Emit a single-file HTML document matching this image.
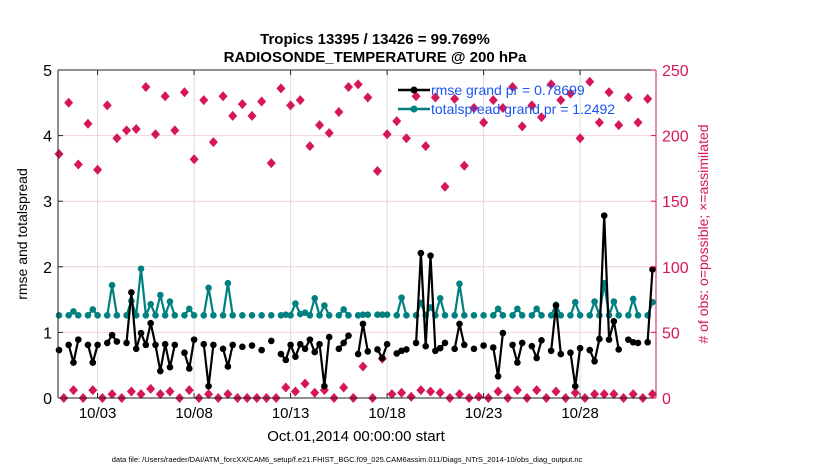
<!DOCTYPE html>
<html><head><meta charset="utf-8">
<style>
html,body{margin:0;padding:0;background:#fff;}
svg{display:block;font-family:"Liberation Sans",sans-serif;}
</style></head>
<body>
<svg id="chart" width="830" height="470" viewBox="0 0 830 470">
<rect x="0" y="0" width="830" height="470" fill="#fff"/>
<text x="375" y="44" text-anchor="middle" font-size="15" font-weight="bold">Tropics 13395 / 13426 = 99.769%</text>
<text x="375" y="62" text-anchor="middle" font-size="15" font-weight="bold">RADIOSONDE_TEMPERATURE @ 200 hPa</text>
<g id="grid"></g>
<g id="marks"></g>
<g id="axes"></g>
<text x="27" y="234" text-anchor="middle" font-size="14" transform="rotate(-90 27 234)">rmse and totalspread</text>
<text x="708" y="234" text-anchor="middle" font-size="14" fill="#d6165a" transform="rotate(-90 708 234)"># of obs: o=possible; ×=assimilated</text>
<text x="356" y="441" text-anchor="middle" font-size="15">Oct.01,2014 00:00:00 start</text>
<text x="347" y="462" text-anchor="middle" font-size="7.5">data file: /Users/raeder/DAI/ATM_forcXX/CAM6_setup/f.e21.FHIST_BGC.f09_025.CAM6assim.011/Diags_NTrS_2014-10/obs_diag_output.nc</text>
<g>
<line x1="398" y1="90" x2="430" y2="90" stroke="#000" stroke-width="2.5"/>
<circle cx="414" cy="90" r="3.5" fill="#000"/>
<text x="431" y="95" font-size="14" fill="#1a56f0">rmse grand pr = 0.78699</text>
<line x1="398" y1="109" x2="430" y2="109" stroke="#008080" stroke-width="2.5"/>
<circle cx="414" cy="109" r="3.5" fill="#008080"/>
<text x="431" y="114" font-size="14" fill="#1a56f0">totalspread grand pr = 1.2492</text>
</g>
</svg>
<script>
const rmse=[.73,null,.81,.54,.89,null,.81,.54,.81,null,.84,.96,.86,null,.84,1.61,.75,.99,.81,1.14,.81,.41,.82,.47,.81,null,.69,.45,.89,null,.82,.18,.81,null,.75,.48,.81,null,.78,null,.80,null,.73,null,.87,null,.67,.58,.81,.63,.82,.75,.89,.70,.82,.18,.93,null,.75,.84,.95,null,.67,1.13,.71,null,.74,.61,.82,null,.68,.72,.74,null,.84,2.21,.79,2.17,.72,.76,.84,null,.75,1.13,.81,null,.75,null,.80,null,.77,.33,.99,null,.81,.54,.84,null,.79,.61,.88,null,.72,1.41,.67,null,.69,.18,.76,null,.73,.56,.90,2.78,.89,1.17,.74,null,.89,.85,.84,null,.85,1.96];
const spread=[1.26,null,1.26,1.32,1.26,null,1.26,1.35,1.26,null,1.26,1.72,1.26,null,1.26,1.48,1.26,1.97,1.26,1.43,1.26,1.57,1.26,1.47,1.26,null,1.26,1.36,1.26,null,1.26,1.68,1.26,null,1.26,1.75,1.26,null,1.26,null,1.26,null,1.26,null,1.26,null,1.26,1.27,1.26,1.44,1.28,1.30,1.26,1.52,1.26,1.41,1.26,null,1.26,1.35,1.26,null,1.26,1.27,1.27,null,1.27,1.27,1.27,null,1.26,1.53,1.26,null,1.26,1.45,1.26,1.38,1.26,1.52,1.26,null,1.26,1.74,1.26,null,1.26,null,1.26,null,1.26,1.36,1.26,null,1.26,1.36,1.26,null,1.26,1.36,1.26,null,1.26,1.42,1.26,null,1.26,1.46,1.26,null,1.26,1.47,1.26,1.75,1.26,1.47,1.26,null,1.26,1.51,1.26,null,1.26,1.46];
const nobs=[186,0,225,6,178,0,209,6,174,0,223,3,198,0,204,5,205,3,237,7,201,3,230,5,204,0,233,6,182,0,227,3,195,0,230,3,215,0,224,0,215,0,226,0,179,0,236,8,223,5,227,11,192,4,208,6,202,0,218,8,237,0,239,24,229,0,173,30,201,3,211,4,198,1,230,6,192,5,229,4,161,0,228,3,177,0,221,1,210,0,227,5,221,0,237,6,207,0,223,6,214,0,239,5,227,0,232,4,198,0,241,3,210,3,233,3,208,0,229,3,210,0,228,3];
const xTickDays=[2,7,12,17,22,27];
const xTickLabels=["10/03","10/08","10/13","10/18","10/23","10/28"];
const yTicks=[0,1,2,3,4,5];
const y2Ticks=[0,50,100,150,200,250];
const stepDays=0.25;

const L=58,R=656,T=70,B=398;
const x=d=>59+d*19.3;
const y=v=>B-(v/5)*(B-T);
const y2=v=>B-(v/250)*(B-T);
const NS="http://www.w3.org/2000/svg";
function mk(tag,attrs,parent){const e=document.createElementNS(NS,tag);for(const k in attrs)e.setAttribute(k,attrs[k]);parent.appendChild(e);return e;}
const grid=document.getElementById('grid'),marks=document.getElementById('marks'),axes=document.getElementById('axes');
mk('rect',{x:L,y:T,width:R-L,height:B-T,fill:'#fff'},grid);
yTicks.forEach(v=>{if(v>0&&v<5){const l=mk('line',{x1:L,x2:R,y1:y(v),y2:y(v),stroke:'#f0d0dc','stroke-width':1},grid);}});
xTickDays.forEach(d=>{const l=mk('line',{x1:x(d),x2:x(d),y1:T,y2:B,stroke:'#dcdcdc','stroke-width':1},grid);});
// lines with breaks
function series(arr,color,name){
  let d='',pen=false;
  arr.forEach((v,i)=>{if(v===null){pen=false;return;}d+=(pen?'L':'M')+x(i*stepDays).toFixed(1)+' '+y(v).toFixed(1)+' ';pen=true;});
  const p=mk('path',{d:d,fill:'none',stroke:color,'stroke-width':2.2,'stroke-linejoin':'round'},marks);
  
  
  arr.forEach((v,i)=>{if(v===null)return;const c=mk('circle',{cx:x(i*stepDays),cy:y(v),r:3.3,fill:color},marks);
    
    });
}
nobs.forEach((v,i)=>{const cx=x(i*stepDays),cy=y2(v);
  const g=mk('path',{d:`M${cx} ${cy-5}L${cx+4.5} ${cy}L${cx} ${cy+5}L${cx-4.5} ${cy}Z`,fill:'#d6165a'},marks);
  
  });
series(spread,'#008080','totalspread');
series(rmse,'#000','rmse');
// axes
mk('line',{x1:L,x2:L,y1:T,y2:B,stroke:'#222','stroke-width':1},axes);
mk('line',{x1:L,x2:R,y1:T,y2:T,stroke:'#222','stroke-width':1},axes);
mk('line',{x1:L,x2:R,y1:B,y2:B,stroke:'#222','stroke-width':1},axes);
mk('line',{x1:R,x2:R,y1:T,y2:B,stroke:'#d6165a','stroke-width':1},axes);
yTicks.forEach(v=>{mk('line',{x1:L,x2:L+5,y1:y(v),y2:y(v),stroke:'#222'},axes);
  const t=mk('text',{x:L-6,y:y(v)+6,'text-anchor':'end','font-size':16},axes);t.textContent=v;
  });
y2Ticks.forEach(v=>{mk('line',{x1:R-5,x2:R,y1:y2(v),y2:y2(v),stroke:'#d6165a'},axes);
  const t=mk('text',{x:R+6,y:y2(v)+6,'font-size':16,fill:'#d6165a'},axes);t.textContent=v;
  });
xTickDays.forEach((d,i)=>{mk('line',{x1:x(d),x2:x(d),y1:B,y2:B-5,stroke:'#222'},axes);mk('line',{x1:x(d),x2:x(d),y1:T,y2:T+5,stroke:'#222'},axes);
  const t=mk('text',{x:x(d),y:B+20,'text-anchor':'middle','font-size':15},axes);t.textContent=xTickLabels[i];
  });
</script>
</body></html>
